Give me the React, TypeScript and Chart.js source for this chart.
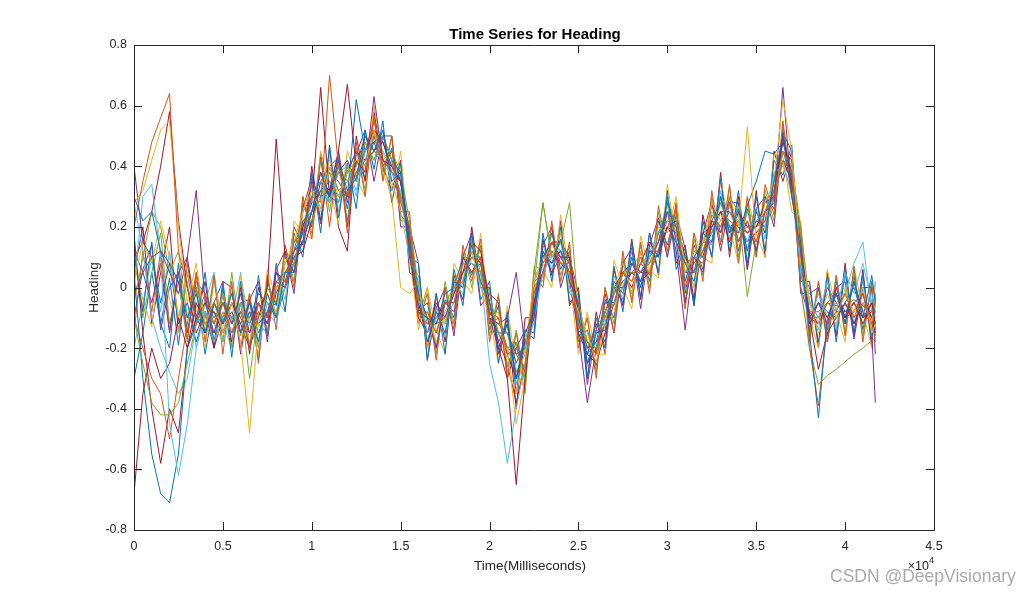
import React, { useEffect, useRef } from "react";
import { Chart, registerables } from "chart.js";

Chart.register(...registerables);

// ---------- data ----------
const TIME_MS = [
  0, 500, 1000, 1500, 2000, 2500, 3000, 3500, 4000, 4500,
  5000, 5500, 6000, 6500, 7000, 7500, 8000, 8500, 9000, 9500,
  10000, 10500, 11000, 11500, 12000, 12500, 13000, 13500, 14000, 14500,
  15000, 15500, 16000, 16500, 17000, 17500, 18000, 18500, 19000, 19500,
  20000, 20500, 21000, 21500, 22000, 22500, 23000, 23500, 24000, 24500,
  25000, 25500, 26000, 26500, 27000, 27500, 28000, 28500, 29000, 29500,
  30000, 30500, 31000, 31500, 32000, 32500, 33000, 33500, 34000, 34500,
  35000, 35500, 36000, 36500, 37000, 37500, 38000, 38500, 39000, 39500,
  40000, 40500, 41000, 41500, 41700,
];

const X_TICKS = [0, 5000, 10000, 15000, 20000, 25000, 30000, 35000, 40000, 45000];
const X_TICK_LABELS = ["0", "0.5", "1", "1.5", "2", "2.5", "3", "3.5", "4", "4.5"];
const Y_TICKS = [-0.8, -0.6, -0.4, -0.2, 0, 0.2, 0.4, 0.6, 0.8];
const Y_TICK_LABELS = ["-0.8", "-0.6", "-0.4", "-0.2", "0", "0.2", "0.4", "0.6", "0.8"];

const TITLE = "Time Series for Heading";
const X_LABEL = "Time(Milliseconds)";
const Y_LABEL = "Heading";
const X_EXPONENT = "4";
const WATERMARK = "CSDN @DeepVisionary";

const s01 = [
  0.3, 0.22, 0.25, 0.12, 0.08, 0.02, -0.1, -0.02, -0.15, -0.05,
  -0.12, -0.02, -0.15, -0.08, -0.18, -0.02, -0.1, 0.05, 0.05, 0.22,
  0.25, 0.38, 0.3, 0.42, 0.32, 0.36, 0.5, 0.45, 0.52, 0.35,
  0.38, 0.1, -0.02, -0.18, -0.08, -0.15, 0.02, 0.0, 0.14, 0.02,
  -0.05, -0.18, -0.12, -0.3, -0.15, -0.08, 0.12, 0.08, 0.16, 0.02,
  -0.05, -0.25, -0.15, -0.14, 0.02, -0.02, 0.1, 0.0, 0.12, 0.1,
  0.3, 0.15, 0.08, 0.02, 0.18, 0.15, 0.3, 0.18, 0.26, 0.12,
  0.25, 0.18, 0.35, 0.5, 0.3, 0.12, -0.15, -0.43, -0.1, -0.02,
  -0.12, 0.02, -0.1, 0.04, -0.05,
];
const s02 = [
  0.2, 0.35, 0.48, 0.56, 0.64, 0.12, 0.0, -0.1, -0.02, -0.12,
  -0.05, -0.15, -0.08, -0.2, -0.05, -0.1, 0.02, 0.0, 0.15, 0.18,
  0.3, 0.28, 0.7, 0.4, 0.3, 0.45, 0.38, 0.5, 0.4, 0.45,
  0.28, 0.2, -0.1, -0.08, -0.15, -0.05, -0.05, 0.08, 0.05, 0.1,
  -0.12, -0.1, -0.22, -0.2, -0.28, 0.0, 0.05, 0.15, 0.08, 0.08,
  -0.14, -0.18, -0.22, -0.05, -0.06, 0.05, 0.02, 0.1, 0.04, 0.18,
  0.2, 0.25, 0.0, 0.1, 0.08, 0.24, 0.2, 0.28, 0.15, 0.22,
  0.15, 0.25, 0.3, 0.42, 0.38, 0.0, -0.2, -0.39, -0.12, -0.08,
  -0.02, -0.1, -0.02, -0.12, -0.08,
];
const s03 = [
  0.28, 0.32, 0.42, 0.52, 0.55, 0.2, -0.05, 0.08, -0.12, -0.05,
  -0.15, -0.05, -0.18, -0.48, -0.12, -0.02, -0.08, 0.08, 0.15, 0.25,
  0.32, 0.25, 0.4, 0.3, 0.38, 0.42, 0.4, 0.52, 0.38, 0.3,
  0.0, -0.02, 0.02, -0.2, -0.1, -0.12, 0.0, 0.08, 0.12, 0.0,
  -0.1, -0.08, -0.25, -0.35, -0.2, 0.02, 0.1, 0.1, 0.18, 0.0,
  -0.08, -0.15, -0.25, -0.12, 0.0, 0.08, -0.02, 0.12, 0.05, 0.2,
  0.18, 0.3, 0.05, 0.12, 0.15, 0.28, 0.22, 0.3, 0.2, 0.53,
  0.15, 0.28, 0.35, 0.62, 0.45, 0.08, -0.05, -0.12, -0.02, -0.1,
  -0.02, -0.08, 0.0, -0.15, -0.12,
];
const s04 = [
  0.4, 0.15, 0.1, 0.12, 0.05, -0.02, 0.1, -0.1, -0.05, -0.15,
  -0.05, -0.12, -0.02, -0.15, -0.05, -0.12, 0.05, 0.0, 0.12, 0.15,
  0.35, 0.3, 0.32, 0.45, 0.28, 0.42, 0.38, 0.63, 0.42, 0.4,
  0.35, 0.18, -0.08, -0.1, -0.2, -0.05, -0.08, 0.1, 0.05, 0.1,
  -0.1, -0.2, -0.12, -0.3, -0.18, -0.1, 0.12, 0.05, 0.1, 0.1,
  -0.15, -0.22, -0.12, -0.18, 0.0, -0.05, 0.08, 0.02, 0.12, 0.12,
  0.25, 0.12, -0.14, 0.1, 0.05, 0.22, 0.18, 0.3, 0.15, 0.22,
  0.12, 0.25, 0.28, 0.66, 0.3, 0.15, -0.1, -0.05, -0.12, 0.0,
  -0.1, -0.08, -0.02, -0.15, -0.38,
];
const s05 = [
  -0.1, -0.25, -0.38, -0.42, -0.42, -0.38, -0.25, -0.12, -0.05, -0.12,
  -0.02, -0.12, -0.05, -0.3, -0.08, -0.1, 0.0, 0.05, 0.08, 0.22,
  0.22, 0.3, 0.38, 0.28, 0.4, 0.35, 0.48, 0.42, 0.5, 0.42,
  0.3, 0.2, -0.05, -0.1, -0.15, -0.05, 0.0, 0.02, 0.15, 0.05,
  -0.05, -0.15, -0.15, -0.28, -0.25, 0.0, 0.28, 0.1, 0.15, 0.08,
  -0.12, -0.18, -0.2, -0.08, -0.02, 0.05, 0.05, 0.08, 0.05, 0.12,
  0.25, 0.22, 0.08, 0.05, 0.15, 0.18, 0.28, 0.2, 0.15, 0.25,
  0.22, 0.18, 0.3, 0.45, 0.4, 0.15, -0.2, -0.32, -0.29, -0.27,
  -0.245, -0.22, -0.2, -0.175, -0.17,
];
const s06 = [
  0.0, 0.3, 0.34, 0.1, -0.45, -0.62, -0.45, -0.2, -0.08, -0.18,
  -0.1, -0.15, -0.05, -0.12, -0.2, -0.05, -0.08, 0.0, 0.12, 0.15,
  0.3, 0.35, 0.28, 0.38, 0.4, 0.32, 0.45, 0.5, 0.4, 0.38,
  0.32, 0.1, 0.0, -0.15, -0.1, -0.1, -0.05, 0.08, 0.08, 0.05,
  -0.25, -0.38, -0.58, -0.4, -0.25, -0.1, 0.05, 0.1, 0.15, 0.0,
  -0.08, -0.22, -0.15, -0.1, -0.05, 0.0, 0.1, 0.02, 0.1, 0.18,
  0.22, 0.15, 0.05, 0.1, 0.1, 0.15, 0.3, 0.25, 0.22, 0.15,
  0.25, 0.2, 0.38, 0.4, 0.32, 0.05, -0.05, -0.1, 0.02, -0.08,
  0.05, -0.02, 0.08, -0.05, 0.02,
];
const s07 = [
  -0.68, -0.35, -0.2, -0.3, -0.25, -0.1, -0.2, -0.05, -0.12, -0.08,
  -0.15, -0.05, -0.12, -0.2, -0.1, 0.0, 0.49, 0.1, 0.05, 0.2,
  0.28, 0.66, 0.3, 0.38, 0.42, 0.35, 0.45, 0.52, 0.48, 0.4,
  0.35, 0.12, -0.1, -0.15, -0.05, -0.1, -0.02, 0.05, 0.15, 0.12,
  -0.05, -0.2, -0.3, -0.65, -0.3, -0.05, 0.05, 0.15, 0.1, 0.1,
  -0.08, -0.25, -0.2, -0.12, 0.0, 0.05, 0.0, 0.08, 0.15, 0.1,
  0.2, 0.22, 0.1, 0.05, 0.18, 0.2, 0.25, 0.15, 0.25, 0.2,
  0.2, 0.28, 0.3, 0.5, 0.35, 0.1, -0.12, -0.05, -0.1, -0.02,
  -0.1, -0.05, -0.12, -0.05, -0.12,
];
const s08 = [
  0.05, -0.3, -0.55, -0.68, -0.71, -0.55, -0.2, -0.12, -0.05, -0.1,
  -0.05, -0.1, -0.12, -0.05, -0.15, -0.08, -0.05, 0.08, 0.12, 0.18,
  0.25, 0.32, 0.35, 0.3, 0.38, 0.45, 0.4, 0.48, 0.5, 0.42,
  0.38, 0.15, -0.02, -0.1, -0.12, -0.02, 0.0, 0.1, 0.05, 0.08,
  -0.1, -0.15, -0.15, -0.22, -0.2, -0.05, 0.1, 0.15, 0.12, 0.08,
  -0.12, -0.2, -0.18, -0.05, -0.05, 0.05, 0.08, 0.05, 0.1, 0.15,
  0.28, 0.2, 0.02, 0.12, 0.1, 0.22, 0.28, 0.2, 0.18, 0.27,
  0.35, 0.45, 0.44, 0.48, 0.38, 0.0, -0.1, -0.05, -0.08, -0.1,
  -0.05, 0.0, -0.1, -0.05, -0.08,
];
const s09 = [
  -0.1, -0.2, -0.3, -0.35, -0.5, -0.3, -0.12, 0.05, -0.1, -0.05,
  -0.1, -0.02, -0.15, -0.08, -0.12, -0.15, 0.0, 0.02, 0.12, 0.25,
  0.3, 0.35, 0.4, 0.32, 0.3, 0.38, 0.45, 0.55, 0.42, 0.38,
  0.3, 0.15, -0.08, -0.12, -0.12, -0.1, 0.0, 0.05, 0.1, 0.08,
  -0.08, -0.1, -0.2, -0.22, -0.28, -0.02, 0.08, 0.12, 0.1, 0.05,
  -0.1, -0.2, -0.15, -0.1, -0.02, 0.02, 0.05, 0.05, 0.08, 0.15,
  0.22, 0.2, 0.05, 0.08, 0.12, 0.2, 0.25, 0.22, 0.2, 0.18,
  0.2, 0.22, 0.32, 0.45, 0.35, 0.08, -0.08, -0.08, -0.05, -0.06,
  -0.06, -0.04, -0.06, -0.08, -0.1,
];
const s10 = [
  0.02, 0.15, 0.08, 0.22, 0.1, -0.1, 0.05, -0.08, -0.05, -0.15,
  -0.02, -0.12, -0.05, -0.18, -0.05, -0.02, -0.1, 0.1, 0.05, 0.25,
  0.35, 0.3, 0.42, 0.38, 0.3, 0.4, 0.48, 0.42, 0.45, 0.35,
  0.25, 0.1, -0.12, -0.08, -0.18, -0.1, -0.05, 0.02, 0.1, 0.05,
  -0.12, -0.15, -0.2, -0.45, -0.3, -0.05, 0.08, 0.15, 0.08, 0.1,
  -0.05, -0.18, -0.2, -0.12, -0.08, 0.05, 0.02, 0.08, 0.1, 0.15,
  0.3, 0.18, 0.1, 0.0, 0.15, 0.25, 0.2, 0.28, 0.18, 0.2,
  0.15, 0.2, 0.3, 0.42, 0.3, 0.15, -0.05, -0.15, -0.08, -0.12,
  0.0, -0.1, -0.05, -0.12, -0.05,
];
const s11 = [
  0.12, 0.05, -0.05, 0.08, -0.15, 0.05, 0.1, 0.32, -0.05, -0.08,
  -0.12, -0.08, -0.15, -0.05, -0.12, -0.08, 0.02, 0.05, 0.1, 0.15,
  0.25, 0.38, 0.3, 0.28, 0.38, 0.45, 0.42, 0.45, 0.48, 0.38,
  0.35, 0.15, -0.05, -0.15, -0.1, -0.05, -0.05, 0.05, 0.08, 0.05,
  -0.1, -0.12, -0.1, 0.05, -0.2, -0.08, 0.1, 0.08, 0.12, 0.02,
  -0.15, -0.38, -0.2, -0.08, 0.0, 0.0, 0.05, 0.02, 0.05, 0.12,
  0.2, 0.15, -0.05, 0.1, 0.15, 0.15, 0.3, 0.18, 0.22, 0.15,
  0.22, 0.2, 0.3, 0.48, 0.38, 0.1, -0.1, -0.12, 0.0, -0.05,
  -0.1, 0.02, -0.08, -0.12, -0.15,
];
const s12 = [
  -0.05, 0.1, 0.25, 0.2, 0.05, 0.12, -0.1, 0.0, -0.12, -0.18,
  -0.08, -0.15, -0.05, -0.1, -0.18, 0.0, -0.05, 0.0, 0.15, 0.2,
  0.3, 0.32, 0.28, 0.4, 0.35, 0.42, 0.4, 0.45, 0.42, 0.45,
  0.38, 0.22, 0.0, -0.12, -0.08, -0.12, 0.02, 0.08, 0.12, 0.1,
  -0.02, -0.15, -0.2, -0.18, -0.35, 0.05, 0.28, 0.1, 0.15, 0.28,
  -0.08, -0.2, -0.12, -0.1, -0.05, 0.0, 0.08, 0.1, 0.08, 0.15,
  0.25, 0.22, 0.1, 0.05, 0.12, 0.22, 0.2, 0.3, 0.25, -0.03,
  0.15, 0.25, 0.35, 0.42, 0.4, 0.2, -0.05, -0.1, -0.05, -0.02,
  -0.1, 0.02, -0.08, -0.05, -0.12,
];
const s13 = [
  0.28, 0.12, -0.1, -0.2, -0.28, -0.35, -0.3, -0.12, -0.08, -0.12,
  -0.18, -0.1, -0.05, -0.15, -0.12, -0.08, -0.12, 0.05, 0.08, 0.18,
  0.28, 0.3, 0.38, 0.32, 0.35, 0.38, 0.42, 0.5, 0.45, 0.4,
  0.3, 0.12, -0.05, -0.1, -0.15, -0.08, -0.02, 0.02, 0.1, 0.1,
  -0.08, -0.1, -0.2, -0.28, -0.22, -0.1, 0.05, 0.12, 0.1, 0.05,
  -0.1, -0.18, -0.22, -0.1, -0.02, 0.05, 0.02, 0.05, 0.12, 0.18,
  0.22, 0.25, 0.02, 0.1, 0.15, 0.18, 0.22, 0.25, 0.18, 0.2,
  0.22, 0.25, 0.3, 0.45, 0.38, 0.05, -0.12, -0.02, -0.1, -0.05,
  -0.02, 0.08, 0.15, -0.08, -0.02,
];
const s14 = [
  0.1, 0.15, 0.25, 0.4, 0.58, 0.22, 0.0, -0.15, -0.08, -0.2,
  -0.1, -0.15, -0.08, -0.12, -0.05, -0.1, 0.05, 0.02, 0.1, 0.12,
  0.22, 0.35, 0.3, 0.45, 0.67, 0.4, 0.5, 0.45, 0.42, 0.38,
  0.35, 0.18, -0.05, -0.18, -0.1, -0.12, 0.0, 0.05, 0.1, 0.1,
  -0.05, -0.18, -0.25, -0.38, -0.25, -0.05, 0.1, 0.15, 0.15, 0.1,
  -0.1, -0.22, -0.25, -0.15, -0.05, 0.0, 0.05, 0.08, 0.05, 0.12,
  0.2, 0.15, 0.08, 0.1, 0.1, 0.2, 0.25, 0.25, 0.2, 0.15,
  0.18, 0.22, 0.35, 0.45, 0.42, 0.15, -0.1, -0.27, -0.15, -0.1,
  -0.05, -0.12, -0.05, -0.1, -0.15,
];
const s15 = [
  0.18, -0.15, -0.4, -0.58, -0.4, -0.48, -0.2, -0.1, -0.15, -0.05,
  -0.12, -0.05, -0.1, -0.15, -0.08, -0.12, -0.02, 0.05, 0.08, 0.2,
  0.3, 0.35, 0.32, 0.4, 0.3, 0.38, 0.42, 0.45, 0.5, 0.42,
  0.3, 0.2, -0.02, -0.1, -0.12, -0.05, -0.05, 0.02, 0.12, 0.08,
  -0.08, -0.15, -0.22, -0.3, -0.2, -0.02, 0.05, 0.12, 0.08, 0.05,
  -0.05, -0.18, -0.2, -0.08, -0.02, 0.05, 0.08, 0.05, 0.05, 0.12,
  0.2, 0.18, 0.05, 0.05, 0.15, 0.22, 0.2, 0.25, 0.2, 0.18,
  0.22, 0.2, 0.3, 0.42, 0.35, 0.05, -0.08, -0.12, -0.05, -0.08,
  -0.08, -0.05, -0.1, -0.08, -0.05,
];
const s16 = [
  -0.02, 0.05, 0.1, -0.05, 0.08, -0.12, -0.05, -0.18, -0.08, -0.12,
  -0.05, -0.12, -0.08, -0.1, -0.02, -0.05, -0.1, 0.0, 0.08, 0.15,
  0.25, 0.32, 0.38, 0.35, 0.3, 0.62, 0.45, 0.48, 0.4, 0.45,
  0.35, 0.12, -0.08, -0.12, -0.1, -0.1, -0.02, 0.08, 0.08, 0.05,
  -0.1, -0.12, -0.15, -0.25, -0.18, -0.08, 0.1, 0.1, 0.12, 0.05,
  -0.12, -0.22, -0.18, -0.12, -0.02, 0.02, 0.05, 0.02, 0.1, 0.18,
  0.25, 0.2, 0.05, 0.08, 0.12, 0.18, 0.25, 0.2, 0.22, 0.18,
  0.2, 0.25, 0.32, 0.5, 0.35, 0.08, -0.1, -0.1, -0.05, -0.02,
  -0.08, -0.05, -0.02, -0.1, -0.05,
];
const s17 = [
  0.12, -0.08, 0.15, -0.12, 0.03, -0.19, 0.05, -0.12, 0.05, -0.2,
  0.0, -0.23, 0.02, -0.2, 0.04, -0.16, 0.08, -0.08, 0.18, 0.1,
  0.38, 0.18, 0.47, 0.23, 0.41, 0.26, 0.52, 0.39, 0.55, 0.28,
  0.41, 0.1, 0.08, -0.24, -0.02, -0.22, 0.06, -0.06, 0.18, -0.04,
  0.02, -0.25, -0.08, -0.35, -0.14, -0.15, 0.18, 0.02, 0.2, -0.05,
  -0.02, -0.3, -0.1, -0.2, 0.07, -0.08, 0.15, -0.03, 0.18, 0.05,
  0.32, 0.06, 0.13, -0.06, 0.22, 0.1, 0.36, 0.12, 0.32, 0.08,
  0.3, 0.12, 0.42, 0.37, 0.47, 0.05, 0.0, -0.18, 0.04, -0.18,
  0.06, -0.15, 0.04, -0.18, -0.05,
];
const s18 = [
  -0.15, 0.12, -0.08, 0.12, -0.14, 0.05, -0.17, 0.04, -0.18, 0.04,
  -0.22, 0.02, -0.2, -0.02, -0.25, 0.04, -0.14, 0.14, 0.0, 0.3,
  0.16, 0.43, 0.2, 0.45, 0.18, 0.48, 0.3, 0.57, 0.35, 0.5,
  0.25, 0.25, -0.12, -0.02, -0.24, 0.0, -0.14, 0.14, 0.02, 0.16,
  -0.18, -0.03, -0.3, -0.15, -0.32, 0.05, 0.0, 0.22, 0.02, 0.15,
  -0.2, -0.1, -0.3, 0.0, -0.15, 0.12, -0.05, 0.15, -0.02, 0.27,
  0.12, 0.28, -0.07, 0.18, 0.02, 0.32, 0.14, 0.34, 0.08, 0.3,
  0.1, 0.34, 0.24, 0.55, 0.32, 0.2, -0.18, 0.02, -0.18, 0.04,
  -0.16, 0.07, -0.18, 0.02, -0.18,
];
const s19 = [
  0.08, -0.04, -0.13, 0.1, -0.04, -0.15, 0.09, -0.06, -0.2, 0.02,
  -0.12, -0.2, 0.04, -0.12, -0.22, 0.06, -0.04, -0.08, 0.22, 0.18,
  0.16, 0.45, 0.33, 0.21, 0.45, 0.36, 0.3, 0.6, 0.43, 0.28,
  0.45, 0.13, -0.14, 0.0, -0.14, -0.22, 0.08, 0.02, -0.02, 0.18,
  -0.1, -0.25, -0.06, -0.27, -0.34, 0.07, 0.06, 0.0, 0.24, 0.03,
  -0.22, -0.08, -0.22, -0.22, 0.09, 0.0, -0.07, 0.17, 0.06, 0.03,
  0.34, 0.16, -0.07, 0.18, 0.1, 0.08, 0.36, 0.2, 0.08, 0.3,
  0.18, 0.1, 0.44, 0.43, 0.25, 0.22, -0.1, -0.2, 0.06, -0.08,
  -0.18, 0.07, -0.08, -0.2, 0.02,
];
const s20 = [
  -0.1, 0.06, 0.14, -0.14, 0.0, 0.05, -0.15, 0.02, -0.02, -0.2,
  0.02, 0.0, -0.22, -0.04, 0.02, -0.18, 0.06, 0.12, -0.02, 0.26,
  0.36, 0.21, 0.4, 0.43, 0.2, 0.44, 0.52, 0.35, 0.5, 0.5,
  0.2, 0.2, 0.08, -0.24, -0.07, 0.0, -0.16, 0.1, 0.18, -0.06,
  -0.02, -0.05, -0.3, -0.2, -0.14, -0.17, 0.14, 0.2, 0.0, 0.1,
  -0.02, -0.32, -0.14, -0.02, -0.15, 0.08, 0.13, -0.07, 0.14, 0.23,
  0.1, 0.24, 0.13, -0.06, 0.18, 0.28, 0.12, 0.28, 0.28, 0.06,
  0.26, 0.3, 0.2, 0.51, 0.45, -0.02, -0.02, 0.0, -0.18, 0.0,
  0.02, -0.17, 0.0, 0.0, -0.22,
];
const s21 = [
  0.15, -0.1, 0.05, 0.18, -0.12, 0.02, -0.18, 0.05, -0.15, 0.04,
  -0.18, 0.05, -0.16, -0.02, -0.2, 0.04, -0.1, 0.14, 0.02, 0.3,
  0.18, 0.42, 0.25, 0.44, 0.22, 0.46, 0.32, 0.56, 0.36, 0.5,
  0.22, 0.22, -0.1, 0.0, -0.22, 0.02, -0.12, 0.12, 0.0, 0.14,
  -0.16, -0.02, -0.28, -0.14, -0.3, 0.06, 0.02, 0.2, 0.04, 0.14,
  -0.18, -0.1, -0.28, 0.0, -0.12, 0.1, -0.04, 0.14, 0.0, 0.25,
  0.1, 0.28, -0.05, 0.16, 0.04, 0.3, 0.15, 0.33, 0.1, 0.28,
  0.1, 0.32, 0.22, 0.54, 0.3, 0.18, -0.16, 0.02, -0.16, 0.04,
  -0.15, 0.06, -0.16, 0.02, -0.16,
];
const s22 = [
  -0.2, -0.05, 0.1, -0.08, 0.12, -0.1, 0.02, -0.2, -0.05, 0.05,
  -0.15, -0.1, 0.05, -0.2, -0.05, -0.14, 0.05, -0.04, 0.16, 0.12,
  0.34, 0.26, 0.44, 0.25, 0.4, 0.3, 0.48, 0.42, 0.52, 0.32,
  0.38, 0.08, 0.04, -0.18, -0.06, -0.16, 0.02, -0.02, 0.16, 0.0,
  -0.02, -0.2, -0.12, -0.32, -0.16, -0.12, 0.14, 0.06, 0.18, -0.02,
  -0.04, -0.26, -0.14, -0.16, 0.04, -0.04, 0.12, 0.0, 0.14, 0.1,
  0.28, 0.1, 0.1, 0.0, 0.18, 0.14, 0.32, 0.16, 0.28, 0.12,
  0.26, 0.16, 0.38, 0.4, 0.42, 0.08, -0.04, -0.14, 0.02, -0.14,
  0.04, -0.12, 0.02, -0.14, -0.02,
];
const s23 = [
  0.05, 0.2, -0.12, 0.05, 0.2, -0.15, 0.08, -0.1, 0.02, -0.18,
  -0.02, -0.18, 0.0, -0.22, 0.0, -0.1, 0.02, 0.0, 0.2, 0.14,
  0.4, 0.22, 0.46, 0.2, 0.12, 0.5, 0.35, 0.58, 0.4, 0.32,
  0.42, 0.05, 0.02, -0.2, -0.02, -0.18, 0.04, -0.04, 0.2, 0.0,
  0.0, -0.22, -0.1, -0.4, -0.1, -0.1, 0.16, 0.04, 0.22, -0.06,
  0.0, -0.3, -0.08, -0.22, 0.06, -0.06, 0.16, -0.04, 0.18, 0.04,
  0.3, 0.08, 0.14, -0.04, 0.24, 0.1, 0.38, 0.1, 0.3, 0.06,
  0.32, 0.1, 0.45, 0.35, 0.45, 0.02, 0.02, -0.2, 0.05, -0.16,
  0.08, -0.16, 0.06, -0.2, -0.02,
];
const s24 = [
  -0.3, -0.15, 0.05, -0.12, -0.2, 0.08, -0.15, 0.0, -0.22, -0.05,
  0.02, -0.2, -0.05, -0.04, -0.24, 0.02, -0.06, 0.12, 0.05, 0.28,
  0.2, 0.44, 0.28, 0.4, 0.26, 0.42, 0.36, 0.52, 0.38, 0.46,
  0.24, 0.2, -0.08, -0.05, -0.2, -0.04, -0.1, 0.1, 0.04, 0.14,
  -0.14, -0.06, -0.26, -0.18, -0.28, 0.02, 0.04, 0.18, 0.06, 0.12,
  -0.16, -0.14, -0.26, -0.04, -0.1, 0.08, -0.02, 0.12, 0.02, 0.22,
  0.14, 0.26, -0.02, 0.14, 0.06, 0.28, 0.18, 0.3, 0.12, 0.26,
  0.12, 0.3, 0.26, 0.52, 0.34, 0.14, -0.14, 0.0, -0.14, 0.02,
  -0.12, 0.04, -0.14, 0.0, -0.14,
];

const SERIES = [
  s01, s02, s03, s04, s05, s06, s07, s08, s09, s10, s11, s12,
  s13, s14, s15, s16, s17, s18, s19, s20, s21, s22, s23, s24,
];

// ---------- styles ----------
const PALETTE = [
  "#0072BD", "#D95319", "#EDB120", "#7E2F8E", "#77AC30", "#4DBEEE", "#A2142F",
  "#0072BD", "#D95319", "#EDB120", "#7E2F8E", "#77AC30", "#4DBEEE", "#A2142F",
  "#A2142F", "#0072BD",
  "#0072BD", "#D95319", "#EDB120", "#7E2F8E", "#77AC30", "#4DBEEE", "#A2142F", "#0072BD",
];
const FONT = "'Liberation Sans', Arial, Helvetica, sans-serif";
const AXIS_COLOR = "#262626";
const W = 1033;
const H = 596;

const matlabFrame = {
  id: "matlabFrame",
  afterDraw(chart: any) {
    const { ctx, chartArea: a, scales } = chart;
    const xs = scales.x;
    const ys = scales.y;
    const L = Math.round(a.left);
    const R = Math.round(a.right);
    const T = Math.round(a.top);
    const B = Math.round(a.bottom);
    const tl = 8;
    ctx.save();
    ctx.strokeStyle = AXIS_COLOR;
    ctx.lineWidth = 1;
    ctx.beginPath();
    ctx.rect(L + 0.5, T + 0.5, R - L, B - T);
    X_TICKS.forEach((v) => {
      const px = Math.round(xs.getPixelForValue(v)) + 0.5;
      ctx.moveTo(px, B);
      ctx.lineTo(px, B - tl);
      ctx.moveTo(px, T);
      ctx.lineTo(px, T + tl);
    });
    Y_TICKS.forEach((v) => {
      const py = Math.round(ys.getPixelForValue(v)) + 0.5;
      ctx.moveTo(L, py);
      ctx.lineTo(L + tl, py);
      ctx.moveTo(R, py);
      ctx.lineTo(R - tl, py);
    });
    ctx.stroke();

    const cx = (a.left + a.right) / 2;
    const cy = (a.top + a.bottom) / 2;

    // title
    ctx.fillStyle = "#000000";
    ctx.font = `bold 15px ${FONT}`;
    ctx.textAlign = "center";
    ctx.textBaseline = "alphabetic";
    ctx.fillText(TITLE, cx + 1, 39);

    // x label
    ctx.fillStyle = AXIS_COLOR;
    ctx.font = `13.5px ${FONT}`;
    ctx.fillText(X_LABEL, cx - 4, 570);

    // y label
    ctx.save();
    ctx.translate(98, cy);
    ctx.rotate(-Math.PI / 2);
    ctx.fillText(Y_LABEL, 0, 0);
    ctx.restore();

    // exponent (x10^4), right aligned with the axis end
    ctx.font = `9px ${FONT}`;
    const expW = ctx.measureText(X_EXPONENT).width;
    const expX = R - expW;
    ctx.textAlign = "left";
    ctx.fillText(X_EXPONENT, expX, 563);
    ctx.textAlign = "right";
    ctx.font = `12.5px ${FONT}`;
    ctx.fillText("\u00d710", expX, 570);

    // watermark
    ctx.textAlign = "left";
    ctx.fillStyle = "rgba(140,140,140,0.75)";
    ctx.font = `17.5px ${FONT}`;
    ctx.fillText(WATERMARK, 830, 582);
    ctx.restore();
  },
};

export default function App() {
  const canvasRef = useRef<HTMLCanvasElement | null>(null);

  useEffect(() => {
    const canvas = canvasRef.current;
    if (!canvas) return;
    const datasets = SERIES.map((vals, k) => ({
      label: `Series ${k + 1}`,
      data: vals.map((v, i) => ({ x: TIME_MS[i], y: v })),
      borderColor: PALETTE[k],
      backgroundColor: PALETTE[k],
      borderWidth: 1,
      pointRadius: 0,
      pointHoverRadius: 0,
      tension: 0,
      fill: false,
    }));

    const chart = new Chart(canvas, {
      type: "line",
      data: { datasets },
      options: {
        responsive: false,
        animation: false,
        events: [],
        layout: { padding: { left: 0, right: W - 934, top: 45, bottom: 0 } },
        plugins: {
          legend: { display: false },
          tooltip: { enabled: false },
          title: { display: false },
        },
        scales: {
          x: {
            type: "linear",
            min: 0,
            max: 45000,
            grid: { display: false, drawTicks: false },
            border: { display: false },
            afterBuildTicks: (s: any) => {
              s.ticks = X_TICKS.map((v) => ({ value: v }));
            },
            afterFit: (s: any) => {
              s.height = H - 530;
            },
            ticks: {
              autoSkip: false,
              maxRotation: 0,
              padding: 9,
              color: AXIS_COLOR,
              font: { family: FONT, size: 12.5 },
              callback: (v: any) => X_TICK_LABELS[X_TICKS.indexOf(Number(v))],
            },
          },
          y: {
            type: "linear",
            min: -0.8,
            max: 0.8,
            grid: { display: false, drawTicks: false },
            border: { display: false },
            afterBuildTicks: (s: any) => {
              s.ticks = Y_TICKS.map((v) => ({ value: v }));
            },
            afterFit: (s: any) => {
              s.width = 134;
            },
            ticks: {
              autoSkip: false,
              padding: 7,
              color: AXIS_COLOR,
              font: { family: FONT, size: 12.5 },
              callback: (v: any) => Y_TICK_LABELS[Y_TICKS.indexOf(Number(v))],
            },
          },
        },
      },
      plugins: [matlabFrame],
    } as any);

    return () => chart.destroy();
  }, []);

  return (
    <div
      style={{
        position: "absolute",
        left: 0,
        top: 0,
        width: W,
        height: H,
        background: "#ffffff",
      }}
    >
      <canvas ref={canvasRef} width={W} height={H} style={{ display: "block" }} />
    </div>
  );
}
